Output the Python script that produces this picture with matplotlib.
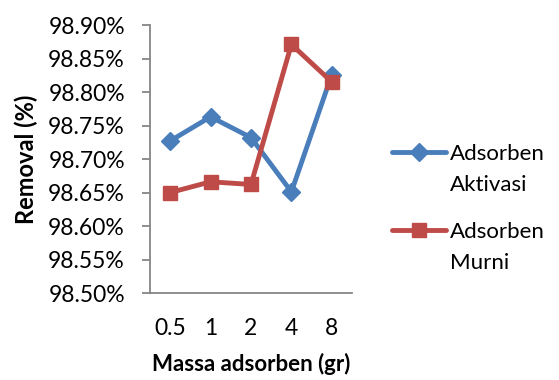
import numpy as np
import matplotlib
matplotlib.use("Agg")
import matplotlib.pyplot as plt
from matplotlib.ticker import FuncFormatter

plt.rcParams['font.family'] = ['Lato', 'DejaVu Sans']

massa = ["0.5", "1", "2", "4", "8"]
aktivasi = [98.727, 98.763, 98.732, 98.651, 98.826]
murni = [98.650, 98.666, 98.662, 98.871, 98.815]
nama = [("Adsorben", "Aktivasi"), ("Adsorben", "Murni")]

blue = "#4A7EBB"
red = "#BE4B48"
grey = "#868686"

fig = plt.figure(figsize=(5.59, 3.80), dpi=100)
ax = fig.add_axes([0.2683, 0.2289, 0.3614, 0.7053])

x = np.arange(len(massa))
ax.plot(x, aktivasi, color=blue, lw=3.5, marker="D", ms=9, mec=blue, mfc=blue,
        label=nama[0][0], solid_joinstyle="round", solid_capstyle="round")
ax.plot(x, murni, color=red, lw=3.5, marker="s", ms=10.5, mec=red, mfc=red,
        label=nama[1][0], solid_joinstyle="round", solid_capstyle="round")

ax.set_xlim(-0.5, len(massa) - 0.5)
ax.set_ylim(98.50, 98.90)
ax.set_yticks(np.arange(98.50, 98.901, 0.05))
ax.yaxis.set_major_formatter(FuncFormatter(lambda v, p: "%.2f%%" % v))
ax.set_xticks(x)
ax.set_xticklabels(massa)

for s in ["top", "right"]:
    ax.spines[s].set_visible(False)
for s in ["left", "bottom"]:
    ax.spines[s].set_color(grey)
    ax.spines[s].set_linewidth(1.3)

ax.tick_params(axis="y", length=6, width=1.3, color=grey, labelsize=16.5, pad=12)
ax.tick_params(axis="x", length=0, labelsize=16.5, pad=18)

ax.set_xlabel("Massa adsorben (gr)", fontsize=16, fontweight="bold", labelpad=10)
ax.set_ylabel("Removal (%)", fontsize=17, fontweight="bold", labelpad=7)

leg = fig.legend(loc="upper left", bbox_to_anchor=(0.686, 0.645), frameon=False,
                 fontsize=16, handlelength=2.4, handletextpad=0.2, labelspacing=2.6,
                 borderaxespad=0)

# second line of each legend label, under the first (Excel wraps it)
fig.canvas.draw()
W, H = fig.bbox.width, fig.bbox.height
for t, (a, b) in zip(leg.get_texts(), nama):
    bb = t.get_window_extent()
    yc = (bb.y0 + bb.y1) / 2 - 31
    fig.text(bb.x0 / W, yc / H, b, fontsize=16, va="center", ha="left")

fig.savefig("out.png", dpi=100)
